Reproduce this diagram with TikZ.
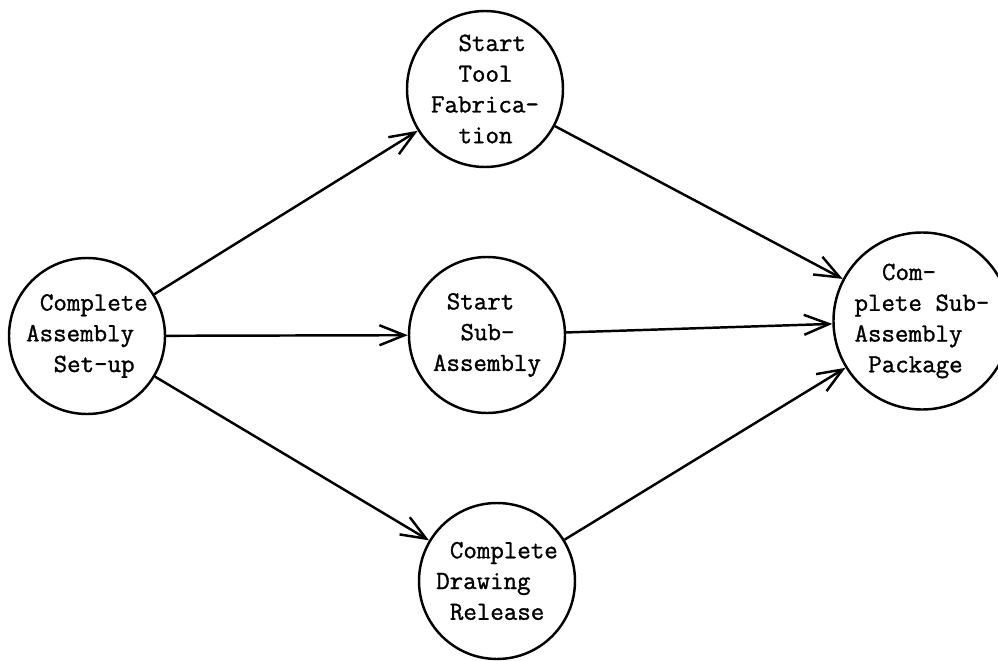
\documentclass[tikz,border=0pt]{standalone}
\usepackage{fontspec}
\newfontfamily\typer[FakeBold=1.2]{Latin Modern Mono}
\usepackage{tikz}
\usetikzlibrary{arrows.meta, positioning}

% one typewriter character
\newcommand{\chr}[1]{\hspace*{#1\dimexpr0.525em\relax}}

\begin{document}
\begin{tikzpicture}[
    event/.style={circle, draw, line width=1.4pt, minimum size=3.12cm, inner sep=0pt,
                  align=left, font=\typer\fontsize{14.9}{17.5}\selectfont},
    flow/.style={line width=1.4pt, -{Straight Barb[length=5mm, width=4mm]}}
  ]
  \useasboundingbox (0,0) rectangle (19.96,-13.22);

  \node[event] (setup) at (1.74, -6.72) {\chr{1}Complete\\Assembly\\\chr{2}Set-up};
  \node[event] (tool) at (9.70, -1.78) {\chr{2}Start\\\chr{2}Tool\\Fabrica-\\\chr{2}tion};
  \node[event] (sub) at (9.74, -6.70) {\chr{1}Start\\\chr{2}Sub-\\Assembly};
  \node[event] (drawing) at (9.94, -11.62) {\chr{1}Complete\\Drawing\\\chr{1}Release};
  \node[event] (package) at (18.44, -6.42) {\chr{2}Com-\\plete Sub-\\Assembly\\\chr{1}Package};

  \draw[flow] (setup) -- (tool);
  \draw[flow] (setup) -- (sub);
  \draw[flow] (setup) -- (drawing);
  \draw[flow] (tool) -- (package);
  \draw[flow] (sub) -- (package);
  \draw[flow] (drawing) -- (package);
\end{tikzpicture}
\end{document}
